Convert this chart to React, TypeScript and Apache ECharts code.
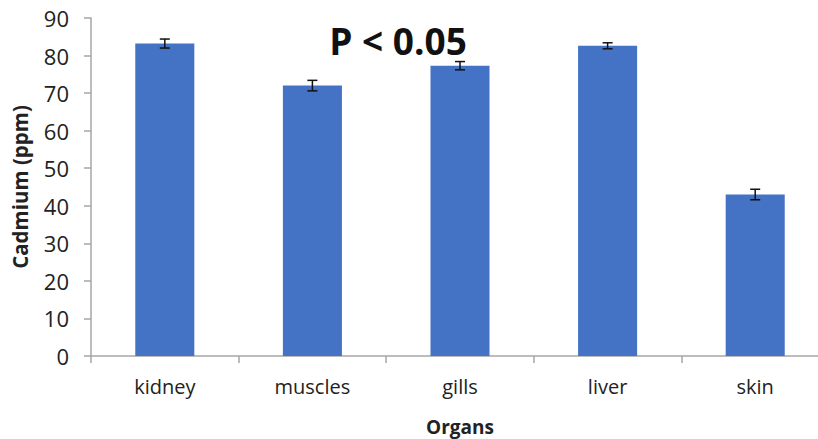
import React, { useEffect, useRef } from "react";
import * as echarts from "echarts";

const categories = ["kidney", "muscles", "gills", "liver", "skin"];
const means = [83.2, 72.0, 77.3, 82.6, 43.0];
const errors = [1.2, 1.4, 1.1, 0.8, 1.4];
const yTicks = { min: 0, max: 90, interval: 10 };
const annotation = "P < 0.05";

export default function App() {
  const ref = useRef<HTMLDivElement>(null);
  useEffect(() => {
    document.body.style.margin = "0";
    const chart = echarts.init(ref.current!, null, { renderer: "svg" });
    const font = "'Open Sans', 'Liberation Sans', sans-serif";
    chart.setOption({
      animation: false,
      backgroundColor: "#ffffff",
      grid: { left: 91, top: 18, bottom: 83, width: 738, outerBoundsMode: "none", containLabel: false },
      title: {
        text: annotation,
        left: 393,
        top: 17,
        textAlign: "center",
        textStyle: { fontSize: 37, fontWeight: "bold", color: "#111", fontFamily: font },
      },
      xAxis: {
        type: "category",
        data: categories,
        name: "Organs",
        nameLocation: "middle",
        nameGap: 61,
        nameTextStyle: { fontSize: 19, fontWeight: "bold", color: "#222", fontFamily: font },
        axisLine: { lineStyle: { color: "#a6a6a6", width: 1.5 } },
        axisTick: { show: true, length: 7, lineStyle: { color: "#a6a6a6", width: 1.5 } },
        axisLabel: { fontSize: 20, color: "#222", margin: 20, fontFamily: font },
      },
      yAxis: {
        type: "value",
        min: yTicks.min,
        max: yTicks.max,
        interval: yTicks.interval,
        name: "Cadmium (ppm)",
        nameLocation: "middle",
        nameGap: 61,
        nameTextStyle: { fontSize: 20.5, fontWeight: "bold", color: "#222", fontFamily: font },
        axisLine: { show: true, lineStyle: { color: "#a6a6a6", width: 1.5 } },
        axisTick: { show: true, length: 7, inside: false, lineStyle: { color: "#a6a6a6", width: 1.5 } },
        splitLine: { show: false },
        axisLabel: { fontSize: 22, color: "#222", margin: 22, fontFamily: font },
      },
      series: [
        {
          type: "bar",
          data: means,
          barWidth: "40%",
          itemStyle: { color: "#4472c4" },
        },
        {
          type: "custom",
          data: means.map((m, i) => [i, m - errors[i], m + errors[i]]),
          z: 10,
          renderItem: (params: any, api: any) => {
            const x = api.value(0);
            const lo = api.coord([x, api.value(1)]);
            const hi = api.coord([x, api.value(2)]);
            const cap = 5;
            const style = { stroke: "#111", lineWidth: 1.5 };
            return {
              type: "group",
              children: [
                { type: "line", shape: { x1: lo[0], y1: lo[1], x2: hi[0], y2: hi[1] }, style },
                { type: "line", shape: { x1: hi[0] - cap, y1: hi[1], x2: hi[0] + cap, y2: hi[1] }, style },
                { type: "line", shape: { x1: lo[0] - cap, y1: lo[1], x2: lo[0] + cap, y2: lo[1] }, style },
              ],
            };
          },
        },
      ],
    });
    return () => chart.dispose();
  }, []);
  return <div ref={ref} style={{ width: 818, height: 439 }} />;
}
